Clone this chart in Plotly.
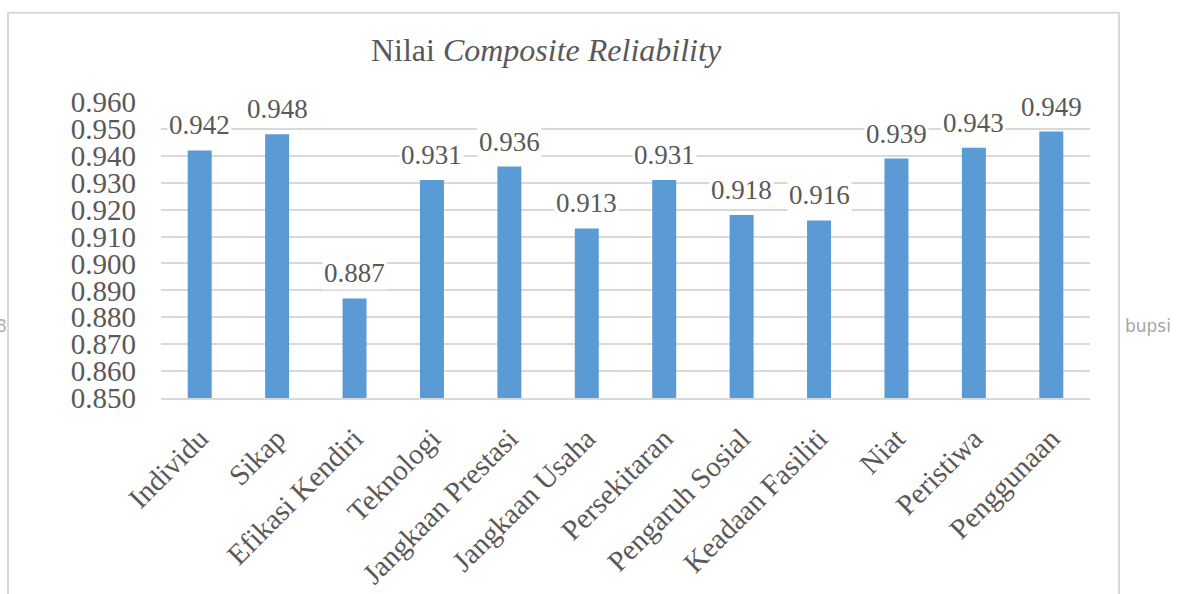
import plotly.graph_objects as go

# Composite reliability per construct
categories = [
    "Individu", "Sikap", "Efikasi Kendiri", "Teknologi", "Jangkaan Prestasi",
    "Jangkaan Usaha", "Persekitaran", "Pengaruh Sosial", "Keadaan Fasiliti",
    "Niat", "Peristiwa", "Penggunaan",
]
values = [0.942, 0.948, 0.887, 0.931, 0.936, 0.913, 0.931, 0.918, 0.916, 0.939, 0.943, 0.949]
y_ticks = [0.850, 0.860, 0.870, 0.880, 0.890, 0.900, 0.910, 0.920, 0.930, 0.940, 0.950, 0.960]

W, H = 1186, 594
L, R, T, B = 161, 96, 101.5, 195.7
PW, PH = W - L - R, H - T - B

def px_x(px):
    return (px - L) / PW

def px_y(py):
    return (H - B - py) / PH

SERIF = "Liberation Serif"
TXT = "#595959"
GRID = "#D9D9D9"
BAR = "#5B9BD5"

fig = go.Figure(
    go.Bar(
        x=categories,
        y=values,
        marker=dict(color=BAR, line=dict(width=0)),
        width=0.31,
        hoverinfo="x+y",
    )
)

annotations = []
for c, v in zip(categories, values):
    annotations.append(dict(
        x=c, y=v, xref="x", yref="y",
        text=f"{v:.3f}", showarrow=False,
        yanchor="bottom", yshift=8,
        bgcolor="white", borderpad=1,
        font=dict(family=SERIF, size=27, color=TXT),
    ))

# faint side marks outside the chart frame
annotations.append(dict(
    x=px_x(1123), y=px_y(326), xref="paper", yref="paper",
    text="bupsi", showarrow=False, xanchor="left", yanchor="middle",
    font=dict(family="DejaVu Sans", size=17, color="#A6A6A6"),
))
annotations.append(dict(
    x=px_x(9), y=px_y(326), xref="paper", yref="paper",
    text="8", showarrow=False, xanchor="right", yanchor="middle",
    font=dict(family="DejaVu Sans", size=17, color="#B0B0B0"),
))

fig.update_layout(
    width=W, height=H,
    margin=dict(l=L, r=R, t=T, b=B, autoexpand=False),
    paper_bgcolor="white", plot_bgcolor="white",
    showlegend=False,
    bargap=0.69,
    title=dict(
        text="Nilai <i>Composite Reliability</i>",
        x=px_x(546), xref="paper", xanchor="center",
        y=1 - 50 / H, yref="container", yanchor="middle",
        font=dict(family=SERIF, size=32, color=TXT),
    ),
    xaxis=dict(
        type="category",
        tickangle=-45,
        tickfont=dict(family=SERIF, size=29, color=TXT),
        showline=True, linecolor=GRID, linewidth=2,
        showgrid=False, ticks="",
        ticklabelstandoff=10,
    ),
    yaxis=dict(
        range=[0.85, 0.96],
        tickvals=y_ticks,
        ticktext=[f"{t:.3f}" for t in y_ticks],
        tickfont=dict(family=SERIF, size=29, color=TXT),
        showgrid=True, gridcolor=GRID, gridwidth=2,
        zeroline=False, showline=False, ticks="",
        ticklabelstandoff=24,
    ),
    shapes=[dict(
        type="rect", xref="paper", yref="paper",
        x0=px_x(8), x1=px_x(1119), y0=px_y(640), y1=px_y(12),
        line=dict(color=GRID, width=2), fillcolor="rgba(0,0,0,0)",
        layer="below",
    )],
    annotations=annotations,
)

fig.write_html("out.html")
